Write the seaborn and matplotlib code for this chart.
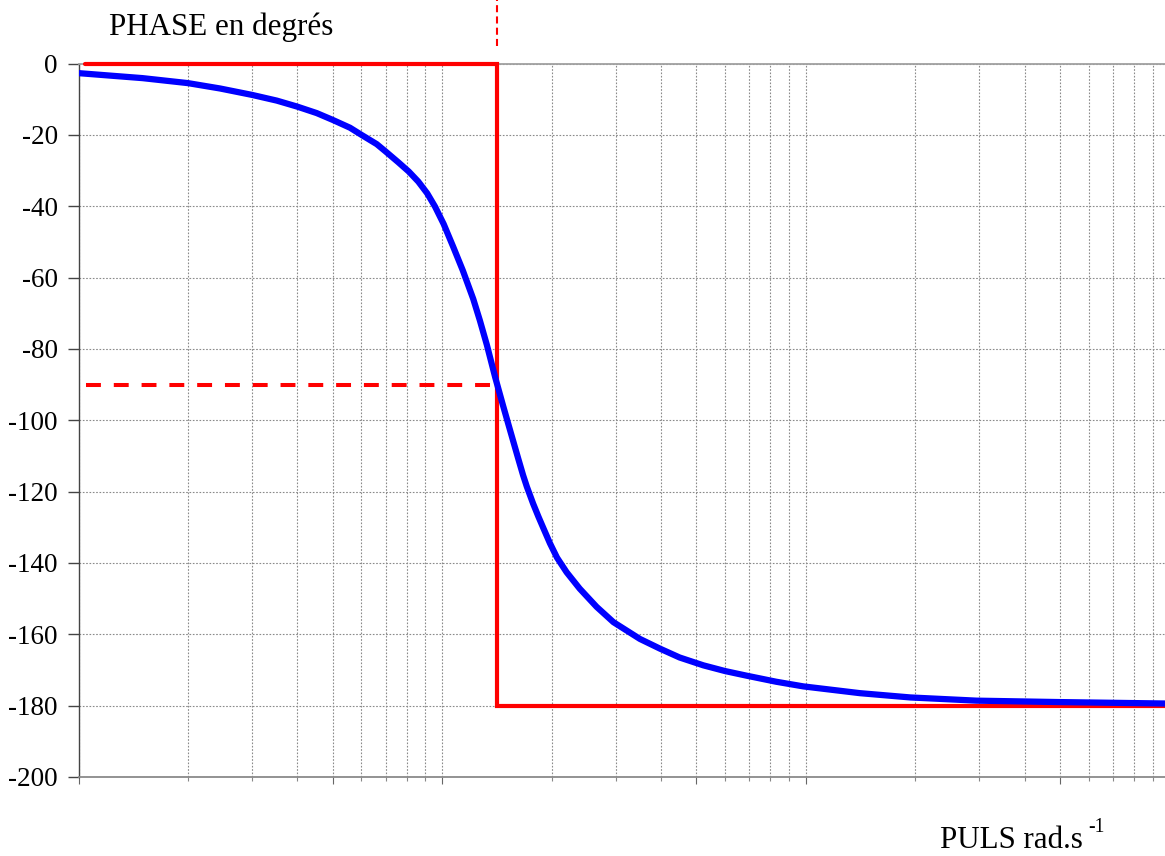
import numpy as np
import pandas as pd
import matplotlib
matplotlib.use("Agg")
import matplotlib.pyplot as plt
import seaborn as sns
from matplotlib.ticker import FixedLocator, NullFormatter

# ---- data ----
omega = [1.0, 1.5, 2.0, 2.45, 3.0, 3.51, 4.0, 4.52, 5.0, 5.58, 6.0, 6.61,
         7.0, 7.58, 8.1, 8.6, 9.1, 9.56, 10.1, 10.73, 11.4, 12.18, 12.7,
         13.27, 14.0, 14.72, 15.4, 16.2, 16.7, 17.1, 17.8, 18.4, 19.0, 19.8,
         20.7, 22.0, 23.9, 26.6, 29.6, 35.0, 39.7, 45.0, 52.3, 60.0, 68.8,
         83.0, 98.5, 141.0, 194.0, 295.0, 500.0, 975.0]
phase = [-2.7, -4.1, -5.5, -7.0, -8.8, -10.4, -12.1, -13.9, -15.8, -18.0,
         -20.0, -22.6, -24.7, -27.7, -30.3, -33.1, -36.4, -40.1, -45.0,
         -51.4, -58.0, -66.0, -72.0, -78.8, -88.0, -96.0, -103.0, -110.8,
         -115.4, -118.6, -123.4, -127.0, -130.3, -134.5, -138.5, -142.6,
         -147.2, -152.3, -156.6, -161.3, -164.0, -166.5, -168.7, -170.3,
         -171.6, -173.3, -174.6, -176.5, -177.7, -178.6, -179.0, -179.4]

# asymptotic (red) step
asym_omega = [1.04, 14.15, 14.15, 1000.0]
asym_phase = [0.0, 0.0, -180.0, -180.0]

omega0 = 14.15
mid_phase = -90.0
y_ticks = list(range(-200, 1, 20))
y_labels = [str(v) for v in y_ticks]

sns.set_style("white")
plt.rcParams["font.family"] = ["Liberation Serif", "DejaVu Serif"]
plt.rcParams["axes.unicode_minus"] = False
plt.rcParams["text.color"] = "black"
plt.rcParams["axes.labelcolor"] = "black"

W, H = 1165, 856
fig = plt.figure(figsize=(W / 100, H / 100), dpi=100)
ax = fig.add_axes([78.5 / W, 79 / H, 1090.8 / W, 713.5 / H])

df_curve = pd.DataFrame({"omega": omega, "phase": phase})
df_asym = pd.DataFrame({"omega": asym_omega, "phase": asym_phase})

sns.lineplot(data=df_asym, x="omega", y="phase", ax=ax, sort=False,
             estimator=None, color="#ff0000", linewidth=3.0, zorder=3,
             solid_joinstyle="miter", clip_on=False)
sns.lineplot(data=df_curve, x="omega", y="phase", ax=ax, sort=False,
             estimator=None, color="#0000ff", linewidth=4.5, zorder=4,
             solid_capstyle="butt", solid_joinstyle="round")

# dashed -90 guide
ax.plot([1.05, omega0], [mid_phase, mid_phase], color="#ff0000",
        linewidth=2.9, linestyle=(0, (3.7, 3.2)), zorder=3)
# dashed vertical above the plot
ax.plot([omega0, omega0], [4.8, 18.5], color="#ff0000", linewidth=1.5,
        linestyle=(0, (3.4, 2.0)), zorder=3, clip_on=False)

ax.set_xscale("log")
ax.set_xlim(1, 1000)
ax.set_ylim(-200, 0)

major_x = [1, 5, 10, 50, 100, 500, 1000]
minor_x = [m * 10 ** k for k in range(3) for m in (2, 3, 4, 6, 7, 8, 9)]
ax.xaxis.set_major_locator(FixedLocator(major_x))
ax.xaxis.set_minor_locator(FixedLocator(minor_x))
ax.xaxis.set_major_formatter(NullFormatter())
ax.xaxis.set_minor_formatter(NullFormatter())
ax.tick_params(axis="x", which="major", direction="out", length=5,
               width=0.8, color="#666666", bottom=True)
ax.tick_params(axis="x", which="minor", direction="out", length=3,
               width=0.8, color="#888888", bottom=True)

ax.set_yticks(y_ticks)
ax.set_yticklabels(y_labels)
ax.tick_params(axis="y", direction="out", length=8, width=1.0,
               color="#444444", labelsize=19.5, pad=7, left=True,
               labelcolor="black")

ax.grid(which="both", axis="x", linestyle=(0, (1.5, 1.5)),
        color="#8a8a8a", linewidth=0.8)
ax.grid(which="major", axis="y", linestyle=(0, (1.5, 1.5)),
        color="#8a8a8a", linewidth=0.8)
ax.set_axisbelow(True)

ax.spines["right"].set_visible(False)
ax.spines["left"].set_color("#444444")
ax.spines["left"].set_linewidth(1.0)
ax.spines["top"].set_color("#a0a0a0")
ax.spines["top"].set_linewidth(1.3)
ax.spines["bottom"].set_color("#8a8a8a")
ax.spines["bottom"].set_linewidth(1.3)

ax.set_xlabel("")
ax.set_ylabel("")

fig.text(109 / W, 1 - 35 / H, "PHASE en degrés", fontsize=22.3,
         ha="left", va="baseline", color="black")
fig.text(940 / W, 1 - 848 / H, "PULS rad.s", fontsize=22.3,
         ha="left", va="baseline", color="black")
fig.text(1088 / W, 1 - 832 / H, "-1", fontsize=14.2,
         ha="left", va="baseline", color="black")

fig.savefig("out.png", dpi=100)
